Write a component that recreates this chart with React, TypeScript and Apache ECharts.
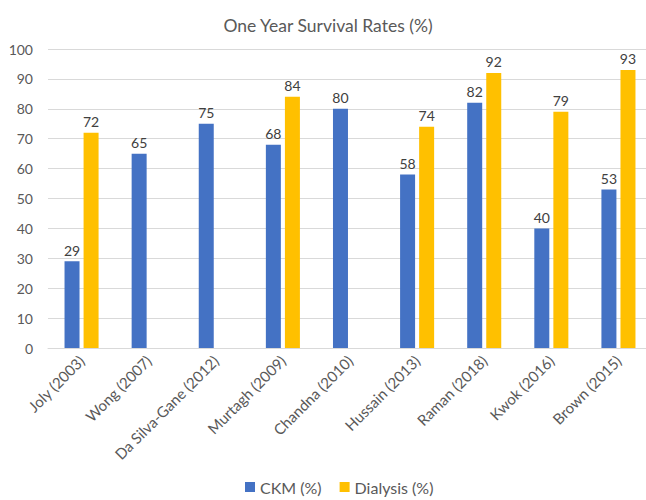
import React, { useEffect, useRef } from "react";
import * as echarts from "echarts";

const categories = [
  "Joly (2003)",
  "Wong (2007)",
  "Da Silva-Gane (2012)",
  "Murtagh (2009)",
  "Chandna (2010)",
  "Hussain (2013)",
  "Raman (2018)",
  "Kwok (2016)",
  "Brown (2015)",
];
const ckm = [29, 65, 75, 68, 80, 58, 82, 40, 53];
const dialysis = [72, null, null, 84, null, 74, 92, 79, 93];
const yTicks = { min: 0, max: 100, interval: 10 };

const FONT = "Lato, 'Open Sans', sans-serif";

export default function App() {
  const ref = useRef<HTMLDivElement>(null);
  useEffect(() => {
    if (!ref.current) return;
    const chart = echarts.init(ref.current, undefined, { renderer: "svg" });
    const label = {
      show: true,
      position: "top" as const,
      distance: 4,
      color: "#404040",
      fontSize: 14,
      fontFamily: FONT,
    };
    chart.setOption({
      animation: false,
      textStyle: { fontFamily: FONT },
      title: {
        text: "One Year Survival Rates (%)",
        left: 323,
        textAlign: "center",
        top: 11,
        textStyle: { color: "#595959", fontSize: 17.5, fontWeight: "normal", fontFamily: FONT },
      },
      legend: {
        bottom: 0,
        left: 240,
        itemWidth: 10,
        itemHeight: 10,
        itemGap: 18,
        icon: "rect",
        textStyle: { color: "#595959", fontSize: 16, fontFamily: FONT },
        data: ["CKM (%)", "Dialysis (%)"],
      },
      grid: { left: 48, top: 49, width: 604, height: 299, containLabel: false },
      xAxis: {
        type: "category",
        data: categories,
        axisLine: { lineStyle: { color: "#d9d9d9" } },
        axisTick: { show: false },
        axisLabel: {
          rotate: 45,
          interval: 0,
          color: "#595959",
          fontSize: 15,
          fontFamily: FONT,
          margin: 10,
        },
      },
      yAxis: {
        type: "value",
        min: yTicks.min,
        max: yTicks.max,
        interval: yTicks.interval,
        axisLine: { show: false },
        axisTick: { show: false },
        splitLine: { lineStyle: { color: "#d9d9d9" } },
        axisLabel: { color: "#595959", fontSize: 14, fontFamily: FONT, margin: 15 },
      },
      series: [
        {
          name: "CKM (%)",
          type: "bar",
          data: ckm,
          barWidth: 15,
          barGap: "27%",
          itemStyle: { color: "#4472c4" },
          label,
        },
        {
          name: "Dialysis (%)",
          type: "bar",
          data: dialysis,
          barWidth: 15,
          itemStyle: { color: "#ffc000" },
          label,
        },
      ],
    });
    return () => chart.dispose();
  }, []);
  return (
    <div
      ref={ref}
      style={{ position: "absolute", left: 0, top: 0, width: 660, height: 500 }}
    />
  );
}
